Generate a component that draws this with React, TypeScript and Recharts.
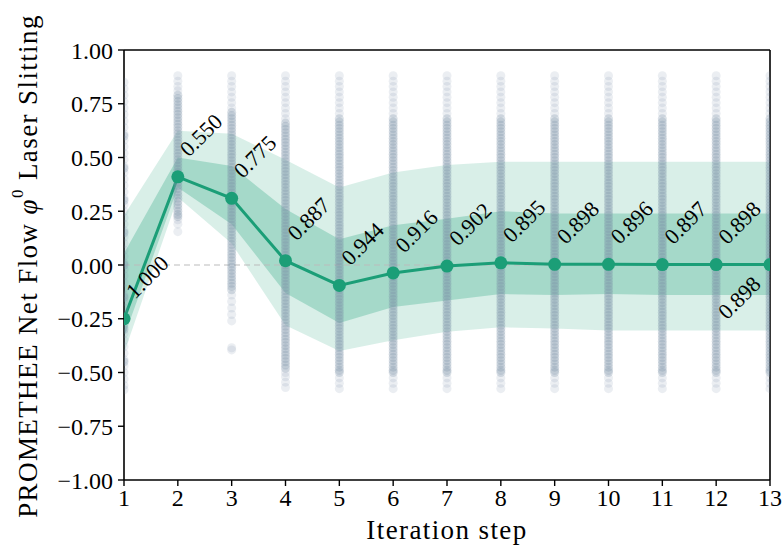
import React from 'react';
import { ComposedChart, Area, Line, Scatter, XAxis, YAxis, ReferenceLine, LabelList } from 'recharts';

const steps = [1, 2, 3, 4, 5, 6, 7, 8, 9, 10, 11, 12, 13];
const meanFlow = [-0.25, 0.41, 0.31, 0.02, -0.095, -0.037, -0.005, 0.01, 0.003, 0.003, 0.002, 0.002, 0.002];
const innerLow = [-0.335, 0.36, 0.19, -0.13, -0.27, -0.195, -0.165, -0.135, -0.14, -0.135, -0.14, -0.14, -0.14];
const innerHigh = [0.055, 0.5, 0.46, 0.26, 0.12, 0.185, 0.215, 0.25, 0.24, 0.24, 0.24, 0.24, 0.24];
const outerLow = [-0.41, 0.315, 0.1, -0.28, -0.4, -0.35, -0.31, -0.29, -0.295, -0.305, -0.305, -0.305, -0.305];
const outerHigh = [0.23, 0.625, 0.61, 0.49, 0.36, 0.43, 0.465, 0.48, 0.48, 0.48, 0.48, 0.48, 0.48];
const accuracyLabels = ['1.000', '0.550', '0.775', '0.887', '0.944', '0.916', '0.902', '0.895', '0.898', '0.896', '0.897', '0.898', '0.898'];
const yTicks = [-1, -0.75, -0.5, -0.25, 0, 0.25, 0.5, 0.75, 1];

// individual samples per step: sparse tails and the dense middle of each column
const step1Tail = [0.85, 0.82, 0.79, 0.76, 0.73, 0.7, 0.67, 0.64, 0.61, 0.58, 0.55, 0.52, 0.49, 0.46, 0.43, 0.4, 0.37, 0.34, 0.31, 0.28, 0.25, 0.22, 0.19, 0.16, 0.13, 0.1, 0.07, 0.04, 0.01, -0.02, -0.05, -0.08, -0.11, -0.14, -0.17, -0.2, -0.23, -0.26, -0.29, -0.32, -0.35, -0.38, -0.41, -0.44, -0.47, -0.5, -0.53, -0.56, -0.58];
const step1Core = [0.6, 0.45, 0.3, 0.15, 0, -0.15, -0.3, -0.45];
const step2Tail = [0.88, 0.855, 0.83, 0.81, 0.21, 0.19, 0.155];
const step2Core = [0.79, 0.775, 0.76, 0.745, 0.73, 0.715, 0.7, 0.685, 0.67, 0.655, 0.64, 0.625, 0.61, 0.595, 0.58, 0.565, 0.55, 0.535, 0.52, 0.505, 0.49, 0.475, 0.46, 0.445, 0.43, 0.415, 0.4, 0.385, 0.37, 0.355, 0.34, 0.325, 0.31, 0.295, 0.28, 0.265, 0.25, 0.235, 0.225];
const step3Tail = [0.88, 0.855, 0.83, 0.805, 0.78, 0.755, 0.73, -0.14, -0.17, -0.2, -0.23, -0.26, -0.385, -0.395];
const step3Core = [0.71, 0.695, 0.68, 0.665, 0.65, 0.635, 0.62, 0.605, 0.59, 0.575, 0.56, 0.545, 0.53, 0.515, 0.5, 0.485, 0.47, 0.455, 0.44, 0.425, 0.41, 0.395, 0.38, 0.365, 0.35, 0.335, 0.32, 0.305, 0.29, 0.275, 0.26, 0.245, 0.23, 0.215, 0.2, 0.185, 0.17, 0.155, 0.14, 0.125, 0.11, 0.095, 0.08, 0.065, 0.05, 0.035, 0.02, 0.005, -0.01, -0.025, -0.04, -0.055, -0.07, -0.085, -0.1, -0.115];
const step4Tail = [0.88, 0.855, 0.83, 0.805, 0.78, 0.755, 0.73, 0.705, 0.68, -0.5, -0.52, -0.545, -0.57];
const step4Core = [0.66, 0.645, 0.63, 0.615, 0.6, 0.585, 0.57, 0.555, 0.54, 0.525, 0.51, 0.495, 0.48, 0.465, 0.45, 0.435, 0.42, 0.405, 0.39, 0.375, 0.36, 0.345, 0.33, 0.315, 0.3, 0.285, 0.27, 0.255, 0.24, 0.225, 0.21, 0.195, 0.18, 0.165, 0.15, 0.135, 0.12, 0.105, 0.09, 0.075, 0.06, 0.045, 0.03, 0.015, 0, -0.015, -0.03, -0.045, -0.06, -0.075, -0.09, -0.105, -0.12, -0.135, -0.15, -0.165, -0.18, -0.195, -0.21, -0.225, -0.24, -0.255, -0.27, -0.285, -0.3, -0.315, -0.33, -0.345, -0.36, -0.375, -0.39, -0.405, -0.42, -0.435, -0.45, -0.465, -0.48];
const settledTail = [0.88, 0.855, 0.83, 0.805, 0.78, 0.755, 0.73, 0.705, -0.525, -0.55, -0.575];
const settledCore = [0.68, 0.665, 0.65, 0.635, 0.62, 0.605, 0.59, 0.575, 0.56, 0.545, 0.53, 0.515, 0.5, 0.485, 0.47, 0.455, 0.44, 0.425, 0.41, 0.395, 0.38, 0.365, 0.35, 0.335, 0.32, 0.305, 0.29, 0.275, 0.26, 0.245, 0.23, 0.215, 0.2, 0.185, 0.17, 0.155, 0.14, 0.125, 0.11, 0.095, 0.08, 0.065, 0.05, 0.035, 0.02, 0.005, -0.01, -0.025, -0.04, -0.055, -0.07, -0.085, -0.1, -0.115, -0.13, -0.145, -0.16, -0.175, -0.19, -0.205, -0.22, -0.235, -0.25, -0.265, -0.28, -0.295, -0.31, -0.325, -0.34, -0.355, -0.37, -0.385, -0.4, -0.415, -0.43, -0.445, -0.46, -0.475, -0.49, -0.5];

const tailSamples = [step1Tail, step2Tail, step3Tail, step4Tail, settledTail, settledTail, settledTail, settledTail, settledTail, settledTail, settledTail, settledTail, settledTail];
const coreSamples = [step1Core, step2Core, step3Core, step4Core, settledCore, settledCore, settledCore, settledCore, settledCore, settledCore, settledCore, settledCore, settledCore];

const toRows = (lists: number[][]) => lists.flatMap((vals, i) => vals.map((value) => ({ step: steps[i], value })));

const summary = steps.map((step, i) => ({
  step,
  mean: meanFlow[i],
  inner: [innerLow[i], innerHigh[i]],
  outer: [outerLow[i], outerHigh[i]],
  label: accuracyLabels[i],
}));

const FONT = "'Liberation Serif', 'DejaVu Serif', serif";
const serif = { fontFamily: FONT };
const GREEN = '#1b9e77';
const SLATE = '#7b8fa6';

const fmt = (v: number) => (v < 0 ? '\u2212' + Math.abs(v).toFixed(2) : v.toFixed(2));

const dot = (opacity: number) => (props: any) => (
  <circle cx={props.cx} cy={props.cy} r={4.5} fill={SLATE} fillOpacity={opacity} />
);

const renderAccuracy = (props: any) => {
  const { x, y, value, index } = props;
  const last = index === steps.length - 1;
  const ax = x + (last ? -43 : 11);
  const ay = y + (last ? 56 : -19);
  return (
    <text x={ax} y={ay} transform={`rotate(-45 ${ax} ${ay})`} fontSize={22} style={serif} fill="#000">
      {value}
    </text>
  );
};

const YTitle = () => (
  <text x={28} y={266} transform="rotate(-90 28 266)" textAnchor="middle" dominantBaseline="central"
    fontSize={27} style={{ ...serif, letterSpacing: 1.4 }} fill="#000">
    PROMETHEE Net Flow <tspan fontStyle="italic">φ</tspan>
    <tspan fontSize={17} dy={-11}>0</tspan>
    <tspan dy={11}> Laser Slitting</tspan>
  </text>
);

const XTitle = () => (
  <text x={447} y={539} textAnchor="middle" fontSize={27} style={{ ...serif, letterSpacing: 1.4 }} fill="#000">
    Iteration step
  </text>
);

const tickStyle = { fill: '#000', fontSize: 24, style: serif };

export default function App() {
  return (
    <div style={{ width: 783, height: 549, background: '#fff', fontFamily: FONT }}>
      <style>{'body{margin:0}'}</style>
      <ComposedChart width={783} height={549} data={summary} margin={{ top: 50, right: 13, bottom: 0, left: 0 }}>
        <XAxis
          type="number"
          dataKey="step"
          domain={[1, 13]}
          ticks={steps}
          allowDataOverflow
          height={69}
          tickSize={6}
          tickMargin={3}
          axisLine={{ stroke: '#000', strokeWidth: 1.6 }}
          tickLine={{ stroke: '#000', strokeWidth: 1.4 }}
          tick={tickStyle}
          label={{ content: () => <XTitle /> }}
        />
        <YAxis
          type="number"
          domain={[-1, 1]}
          ticks={yTicks}
          allowDataOverflow
          width={124}
          tickSize={6}
          tickMargin={5}
          tickFormatter={fmt}
          axisLine={{ stroke: '#000', strokeWidth: 1.6 }}
          tickLine={{ stroke: '#000', strokeWidth: 1.4 }}
          tick={tickStyle}
          label={{ content: () => <YTitle /> }}
        />
        <ReferenceLine y={0} stroke="#bbbbbb" strokeDasharray="6 4" strokeWidth={1} />
        <Area type="linear" dataKey="outer" stroke="none" fill={GREEN} fillOpacity={0.17} isAnimationActive={false} />
        <Area type="linear" dataKey="inner" stroke="none" fill={GREEN} fillOpacity={0.27} isAnimationActive={false} />
        <Scatter data={toRows(tailSamples)} dataKey="value" shape={dot(0.15)} isAnimationActive={false} />
        <Scatter data={toRows(coreSamples)} dataKey="value" shape={dot(0.27)} isAnimationActive={false} />
        <Line
          type="linear"
          dataKey="mean"
          stroke={GREEN}
          strokeWidth={3}
          dot={{ r: 6.5, fill: GREEN, stroke: 'none' }}
          isAnimationActive={false}
        >
          <LabelList dataKey="label" content={renderAccuracy} />
        </Line>
        <ReferenceLine y={1} stroke="#000" strokeWidth={1.6} />
        <ReferenceLine x={13} stroke="#000" strokeWidth={1.6} />
      </ComposedChart>
    </div>
  );
}
